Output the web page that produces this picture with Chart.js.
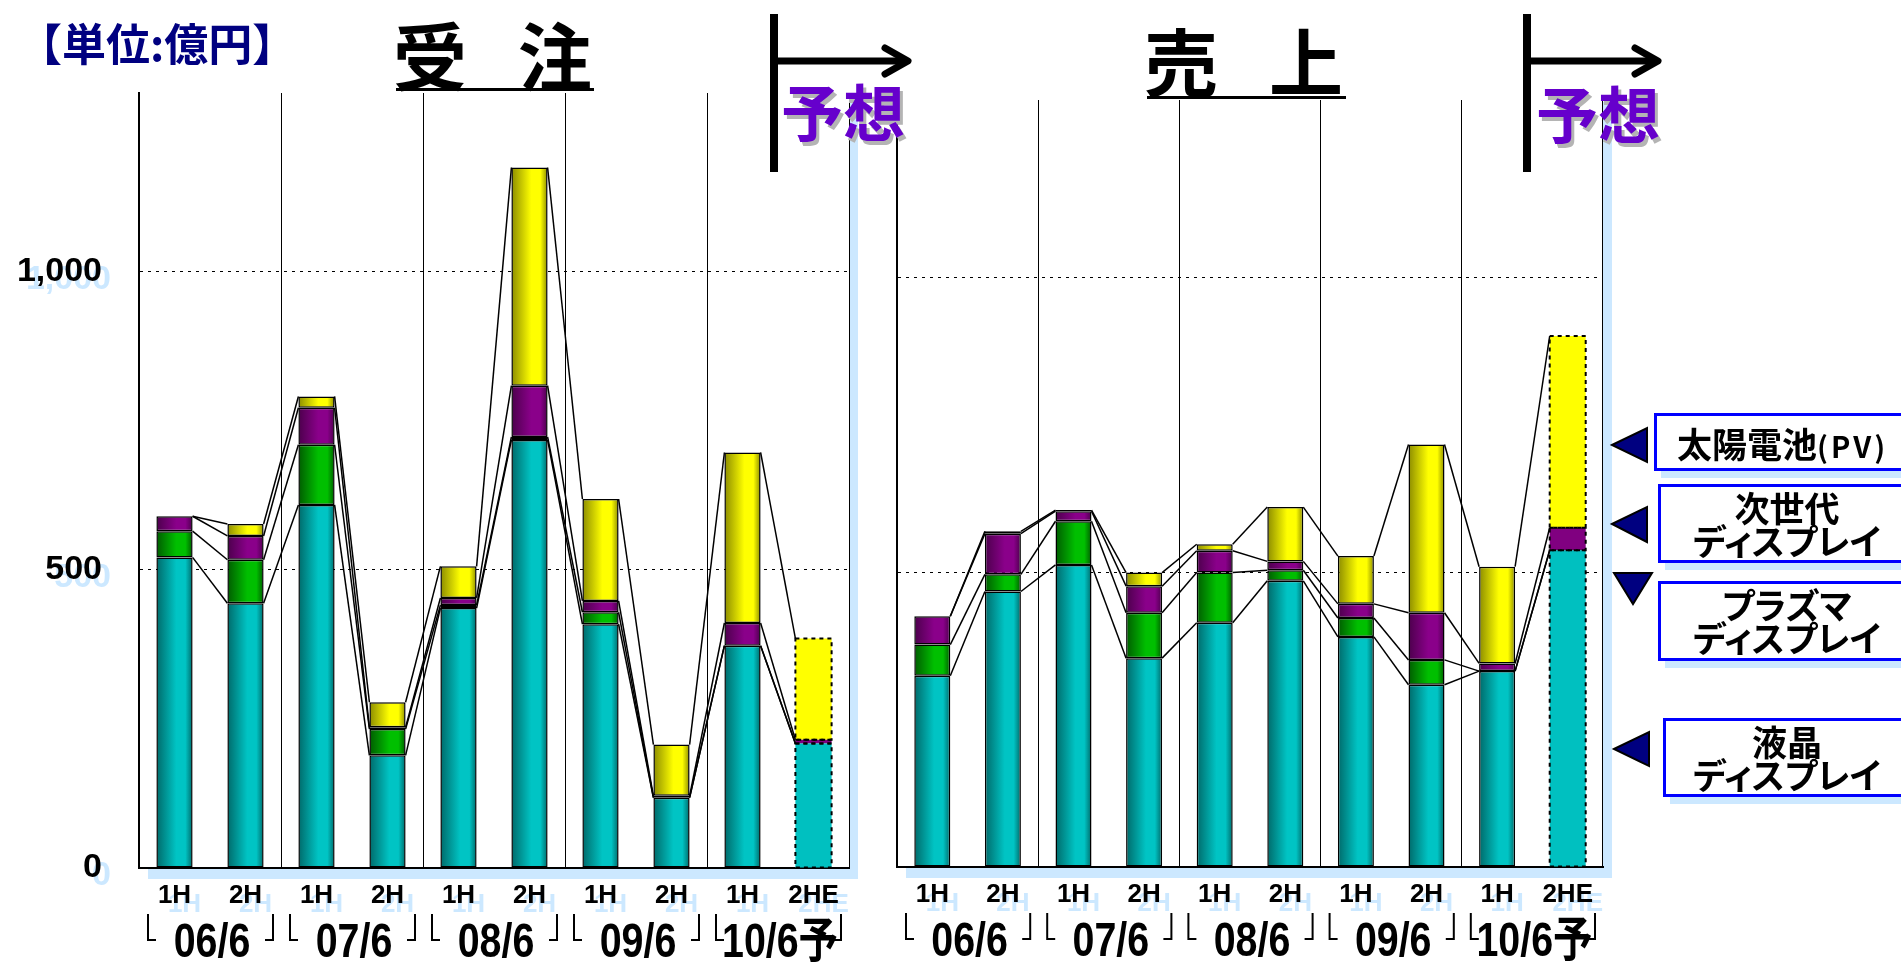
<!DOCTYPE html>
<html lang="ja">
<head>
<meta charset="UTF-8">
<title>受注・売上</title>
<script src="https://cdn.jsdelivr.net/npm/chart.js"></script>
<style>
  html, body { margin: 0; padding: 0; background: #fff; }
  body { width: 1901px; height: 963px; position: relative; overflow: hidden; font-family: "Noto Sans CJK JP", sans-serif; }
  canvas { position: absolute; left: 0; top: 0; }
  svg { position: absolute; left: 0; top: 0; }
  .abs { position: absolute; white-space: nowrap; line-height: 1; }
  .unit { left: 18px; top: 20px; font-size: 44px; font-weight: bold; color: #000080; }
  .title { font-size: 74px; font-weight: bold; letter-spacing: -11.5px; color: #000; }
  .uline { position: absolute; height: 3px; background: #000; }
  .yoso { font-size: 62px; font-weight: bold; color: #6600cc; text-shadow: 3px 4px 0 #b4b4b4; }
  .box { position: absolute; box-sizing: border-box; border: 3px solid #0000ff; background: #fff;
         box-shadow: 7px 7px 0 #cce8ff; text-align: center; font-weight: bold; font-size: 35px;
         line-height: 33px; font-feature-settings: "palt"; color: #000; white-space: nowrap; }
</style>
</head>
<body>

<canvas id="orders" width="1901" height="963"></canvas>
<canvas id="sales" width="1901" height="963"></canvas>

<svg width="1901" height="963">
  <g stroke="#000" stroke-width="8" fill="none" stroke-linecap="round" stroke-linejoin="round">
    <line x1="774" y1="14" x2="774" y2="172" stroke-linecap="butt"/>
    <line x1="778" y1="61" x2="906" y2="61" stroke-width="7"/>
    <polyline points="885,48 908,61 885,74" stroke-width="7"/>
    <line x1="1527" y1="14" x2="1527" y2="172" stroke-linecap="butt"/>
    <line x1="1531" y1="61" x2="1656" y2="61" stroke-width="7"/>
    <polyline points="1635,48 1658,61 1635,74" stroke-width="7"/>
  </g>
  <g fill="#000080" stroke="#000" stroke-width="2">
    <polygon points="1612,445 1647,428 1647,462"/>
    <polygon points="1612,524 1647,507 1647,542"/>
    <polygon points="1614,573 1652,573 1633,604"/>
    <polygon points="1614,749 1649,732 1649,766"/>
  </g>
</svg>

<div class="abs unit">【単位:億円】</div>
<div class="abs title" style="left:393px; top:16px;">受　注</div>
<div class="uline" style="left:396px; top:88px; width:198px;"></div>
<div class="abs title" style="left:1144px; top:22px;">売　上</div>
<div class="uline" style="left:1147px; top:96px; width:199px;"></div>
<div class="abs yoso" style="left:781px; top:79px;">予想</div>
<div class="abs yoso" style="left:1536px; top:81px;">予想</div>

<div class="box" style="left:1654px; top:413px; width:262px; height:58px; padding-top:10px; text-align:left; padding-left:20px;">太陽電池<span style="font-size:29px; letter-spacing:3px;">(PV)</span></div>
<div class="box" style="left:1658px; top:484px; width:258px; height:79px; padding-top:3px;">次世代<br>ディスプレイ</div>
<div class="box" style="left:1658px; top:581px; width:258px; height:80px; padding-top:3px;">プラズマ<br>ディスプレイ</div>
<div class="box" style="left:1663px; top:718px; width:248px; height:79px; padding-top:3px;">液晶<br>ディスプレイ</div>

<script>
  // half-year periods and fiscal-year groups
  const labels = ['1H', '2H', '1H', '2H', '1H', '2H', '1H', '2H', '1H', '2HE'];
  const groups = ['06/6', '07/6', '08/6', '09/6', '10/6予'];
  const yTicks = [0, 500, 1000];
  const fcIdx = 9; // forecast bar

  // 受注 (orders)
  const ordLcd  = [521, 444, 609, 189, 436, 718, 409, 118, 373, 209];
  const ordPdp  = [ 44,  73, 101,  44,   5,   5,  20,   0,   0,   0];
  const ordNext = [ 25,  40,  62,   3,  12,  86,  19,   3,  38,   6];
  const ordPv   = [  0,  20,  19,  42,  53, 366, 171,  86, 286, 170];

  // 売上 (sales)
  const salLcd  = [324, 467, 512, 354, 414, 485, 390, 309, 332, 537];
  const salPdp  = [ 53,  29,  74,  77,  85,  18,  32,  42,   0,   0];
  const salNext = [ 48,  69,  17,  45,  37,  15,  24,  80,  13,  38];
  const salPv   = [  0,   4,   2,  23,  11,  92,  81, 285, 164, 325];

  const BAR_PCT = 0.51;
  const SHADOW = '#cce8ff';

  // cylinder-ish shading, flat fill for the forecast bar
  function barFill(c, dark, light, flat) {
    const chart = c.chart;
    if (c.dataIndex === undefined || c.dataIndex === fcIdx || !chart.chartArea) return flat;
    const x = chart.scales.x.getPixelForValue(c.dataIndex);
    const w = chart.chartArea.width / labels.length * BAR_PCT;
    const g = chart.ctx.createLinearGradient(x - w / 2, 0, x + w / 2, 0);
    g.addColorStop(0, dark);
    g.addColorStop(0.55, light);
    g.addColorStop(0.8, light);
    g.addColorStop(1, dark);
    return g;
  }

  function series(label, data, dark, light, flat) {
    return {
      label: label,
      data: data,
      backgroundColor: c => barFill(c, dark, light, flat),
      borderColor: '#000',
      borderWidth: c => c.dataIndex === fcIdx ? 0 : 1.5,
      borderSkipped: false,
      barPercentage: BAR_PCT,
      categoryPercentage: 1.0
    };
  }

  // light blue drop shadow behind the plot area
  const frame = {
    id: 'frame',
    beforeDraw(chart) {
      const { ctx, chartArea: a } = chart;
      ctx.save();
      ctx.fillStyle = SHADOW;
      ctx.fillRect(a.left + 9, a.top + 2, a.width, a.height + 9);
      ctx.fillStyle = '#fff';
      ctx.fillRect(a.left, a.top, a.width, a.height);
      ctx.restore();
    }
  };

  // series lines between bars + dashed outline on the forecast bar
  const seriesLines = {
    id: 'seriesLines',
    afterDatasetsDraw(chart) {
      const ctx = chart.ctx;
      ctx.save();
      ctx.strokeStyle = '#000';
      ctx.lineWidth = 1.5;
      chart.data.datasets.forEach((ds, d) => {
        const bars = chart.getDatasetMeta(d).data;
        for (let i = 0; i < bars.length - 1; i++) {
          const a = bars[i], b = bars[i + 1];
          ctx.beginPath();
          ctx.moveTo(a.x + a.width / 2, a.y);
          ctx.lineTo(b.x - b.width / 2, b.y);
          ctx.stroke();
        }
      });
      ctx.setLineDash([4, 4]);
      ctx.lineWidth = 2;
      chart.data.datasets.forEach((ds, d) => {
        const bar = chart.getDatasetMeta(d).data[fcIdx];
        if (Math.abs(bar.base - bar.y) < 0.5) return;
        ctx.strokeRect(bar.x - bar.width / 2, bar.y, bar.width, bar.base - bar.y);
      });
      ctx.restore();
    }
  };

  // tick labels with their light blue shadows, year brackets
  const axisText = {
    id: 'axisText',
    afterDraw(chart, args, opts) {
      const { ctx, chartArea: area, scales: { x, y } } = chart;
      ctx.save();
      ctx.textBaseline = 'middle';

      if (opts.showY) {
        ctx.font = 'bold 34px "Liberation Sans", Arial, sans-serif';
        ctx.textAlign = 'right';
        yTicks.forEach(v => {
          const py = y.getPixelForValue(v);
          const t = v.toLocaleString('en-US');
          ctx.fillStyle = SHADOW;
          ctx.fillText(t, area.left - 37 + 9, py + 8);
          ctx.fillStyle = '#000';
          ctx.fillText(t, area.left - 37, py);
        });
      }

      ctx.textAlign = 'center';
      ctx.font = 'bold 26px "Liberation Sans", Arial, sans-serif';
      const ly = area.bottom + 28;
      labels.forEach((t, i) => {
        const px = x.getPixelForValue(i);
        ctx.fillStyle = SHADOW;
        ctx.fillText(t, px + 10, ly + 9);
      });
      labels.forEach((t, i) => {
        const px = x.getPixelForValue(i);
        ctx.fillStyle = '#000';
        ctx.fillText(t, px, ly);
      });

      const catW = area.width / labels.length;
      ctx.strokeStyle = '#000';
      ctx.lineWidth = 2;
      groups.forEach((g, k) => {
        const x0 = x.getPixelForValue(2 * k) - catW / 2;
        const x1 = x.getPixelForValue(2 * k + 1) + catW / 2;
        const top = area.bottom + 46, bot = area.bottom + 72;
        ctx.beginPath();
        ctx.moveTo(x0 + 9, top); ctx.lineTo(x0 + 9, bot); ctx.lineTo(x0 + 17, bot);
        ctx.moveTo(x1 - 8, top); ctx.lineTo(x1 - 8, bot); ctx.lineTo(x1 - 16, bot);
        ctx.stroke();
        ctx.save();
        ctx.translate((x0 + x1) / 2 + 2, area.bottom + 76);
        ctx.scale(0.82, 1);
        ctx.font = 'bold 48px "Liberation Sans", "Noto Sans CJK JP", sans-serif';
        ctx.fillStyle = '#000';
        ctx.fillText(g, 0, 0);
        ctx.restore();
      });
      ctx.restore();
    }
  };

  function makeChart(id, lcd, pdp, nxt, pv, pad, showY) {
    return new Chart(document.getElementById(id), {
      type: 'bar',
      data: {
        labels: labels,
        datasets: [
          series('液晶ディスプレイ', lcd, '#006a6a', '#00c4c4', '#00c0c0'),
          series('プラズマディスプレイ', pdp, '#005c00', '#00bf00', '#00b000'),
          series('次世代ディスプレイ', nxt, '#4c004c', '#8a008a', '#800080'),
          series('太陽電池(PV)', pv, '#8c8c00', '#ffff00', '#ffff00')
        ]
      },
      options: {
        responsive: false,
        animation: false,
        layout: { padding: pad },
        plugins: {
          legend: { display: false },
          tooltip: { enabled: false },
          axisText: { showY: showY }
        },
        scales: {
          x: {
            stacked: true,
            ticks: { display: false },
            grid: {
              drawTicks: false,
              offset: true,
              lineWidth: 1,
              color: c => (c.type === 'scale' || c.index % 2 === 0) ? '#000' : 'rgba(0,0,0,0)'
            },
            border: { color: '#000', width: 2 }
          },
          y: {
            stacked: true,
            min: 0,
            max: 1300,
            afterBuildTicks: axis => { axis.ticks = yTicks.map(v => ({ value: v })); },
            ticks: { display: false },
            grid: {
              drawTicks: false,
              lineWidth: 1,
              color: c => (c.tick && c.tick.value > 0) ? '#000' : 'rgba(0,0,0,0)'
            },
            border: { color: '#000', width: 2, dash: [3, 5] }
          }
        }
      },
      plugins: [frame, seriesLines, axisText]
    });
  }

  makeChart('orders', ordLcd, ordPdp, ordNext, ordPv,
    { left: 139, top: 93, right: 1901 - 849, bottom: 963 - 868 }, true);
  makeChart('sales', salLcd, salPdp, salNext, salPv,
    { left: 897, top: 100, right: 1901 - 1603, bottom: 963 - 867 }, false);
</script>

</body>
</html>
